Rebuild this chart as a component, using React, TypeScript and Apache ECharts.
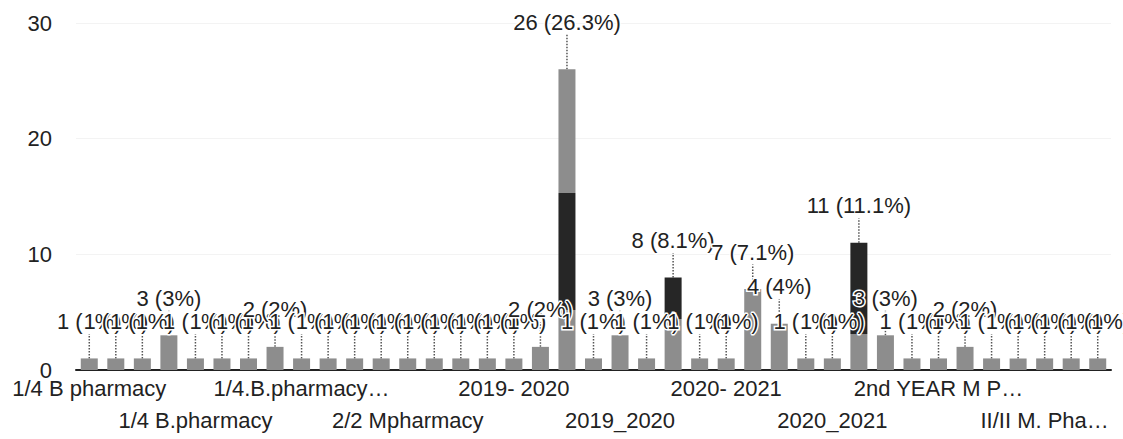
import React, { useEffect, useRef } from "react";
import * as echarts from "echarts";

// Categories (only every 4th label is visible in the reference; hidden ones are plausible placeholders)
const categories: string[] = [
  "1/4 B pharmacy",
  "1/4 B Pharmacy",
  "1/4 B. Pharmacy",
  "1/4 B.Pharm",
  "1/4 B.pharmacy",
  "1/4 B.Pharmacy",
  "1/4 Bpharmacy",
  "1/4.B.pharm",
  "1/4.B.pharmacy…",
  "1st year B.pharmacy",
  "2/2 M.pharmacy",
  "2/2 M.Pharmacy",
  "2/2 Mpharmacy",
  "2/4 B.pharmacy",
  "2018-2019",
  "2019 - 2020",
  "2019- 2020",
  "2019-20",
  "2019-2020",
  "2019/2020",
  "2019_2020",
  "2020",
  "2020 - 2021",
  "2020 -2021",
  "2020- 2021",
  "2020-2021",
  "2020-21",
  "2020/2021",
  "2020_2021",
  "2021-2022",
  "2nd year",
  "2nd year M pharmacy",
  "2nd YEAR M P…",
  "2nd year M.Pharm",
  "4th year B.pharmacy",
  "B.pharmacy",
  "II/II M. Pha…",
  "II/II M.Pharmacy",
  "M.pharmacy",
];

const counts: number[] = [
  1, 1, 1, 3, 1, 1, 1, 2, 1, 1,
  1, 1, 1, 1, 1, 1, 1, 2, 26, 1,
  3, 1, 8, 1, 1, 7, 4, 1, 1, 11,
  3, 1, 1, 2, 1, 1, 1, 1, 1,
];

const yTicks = { min: 0, max: 30, interval: 10 };

const BAR_GRAY = "#8d8d8d";
const BAR_DARK = "#262626";
const TEXT = "#222222";

// Scan-darkened regions of a few bars (fraction of bar height from top)
const scanShading: Record<number, [number, number]> = {
  18: [0.41, 0.8],
  22: [0, 0.45],
  29: [0, 0.72],
};

export default function App() {
  const ref = useRef<HTMLDivElement>(null);

  useEffect(() => {
    document.body.style.margin = "0";
    const chart = echarts.init(ref.current!, null, { renderer: "svg" });
    const total = counts.reduce((a, b) => a + b, 0);
    const pct = (v: number) => {
      const p = Math.round((v / total) * 1000) / 10;
      return Number.isInteger(p) ? String(p) : p.toFixed(1);
    };
    const data = counts.map((v, i) => {
      const s = scanShading[i];
      if (!s) return v;
      const stops: { offset: number; color: string }[] = [];
      if (s[0] > 0) {
        stops.push({ offset: 0, color: BAR_GRAY }, { offset: s[0], color: BAR_GRAY });
      }
      stops.push({ offset: s[0], color: BAR_DARK }, { offset: s[1], color: BAR_DARK });
      stops.push({ offset: s[1], color: BAR_GRAY }, { offset: 1, color: BAR_GRAY });
      return {
        value: v,
        itemStyle: { color: new echarts.graphic.LinearGradient(0, 0, 0, 1, stops) },
      };
    });

    const labelBase = {
      fontSize: 22,
      color: TEXT,
      showMinLabel: true,
    };

    chart.setOption({
      animation: false,
      backgroundColor: "#ffffff",
      textStyle: { fontFamily: "Liberation Sans, Arial, sans-serif" },
      grid: { left: 76, right: 12, top: 23, bottom: 69 },
      xAxis: [
        {
          type: "category",
          data: categories,
          axisTick: { show: false },
          axisLine: { lineStyle: { color: TEXT, width: 2 } },
          axisLabel: {
            ...labelBase,
            margin: 7,
            interval: (i: number) => i % 8 === 0,
          },
        },
        {
          type: "category",
          data: categories,
          position: "bottom",
          offset: 32,
          axisTick: { show: false },
          axisLine: { show: false },
          splitLine: { show: false },
          axisLabel: {
            ...labelBase,
            margin: 7,
            interval: (i: number) => i % 8 === 4,
          },
        },
      ],
      yAxis: {
        type: "value",
        min: yTicks.min,
        max: yTicks.max,
        interval: yTicks.interval,
        axisLabel: { fontSize: 22, margin: 24, color: TEXT },
        axisLine: { show: false },
        axisTick: { show: false },
        splitLine: { lineStyle: { color: "#f3f3f3" } },
      },
      series: [
        {
          type: "bar",
          xAxisIndex: 0,
          data,
          barWidth: 17,
          itemStyle: { color: BAR_GRAY },
          label: {
            show: true,
            position: "top",
            distance: 0,
            fontSize: 22,
            color: TEXT,
            textBorderColor: "#ffffff",
            textBorderWidth: 3,
            formatter: (p: any) => `${p.value} (${pct(p.value)}%)`,
          },
          labelLayout: (p: any) => ({ dy: p.dataIndex === 18 ? -36 : -26 }),
          labelLine: {
            show: true,
            lineStyle: { color: "#555555", type: "dotted", width: 1.5 },
          },
        },
      ],
    });
    return () => chart.dispose();
  }, []);

  return <div ref={ref} style={{ width: 1123, height: 439 }} />;
}
